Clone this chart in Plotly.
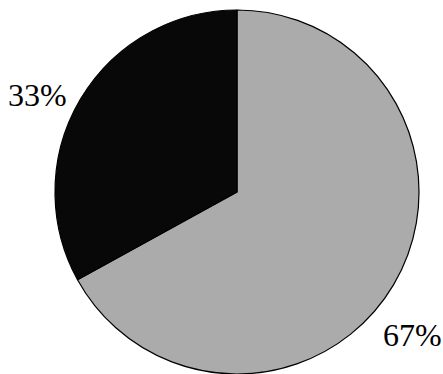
import plotly.graph_objects as go

categories = ["A", "B"]
values = [67, 33]
colors = ["#ababab", "#080808"]

W, H = 443, 374
cx, cy, r = 237, 192, 182

fig = go.Figure()
fig.add_trace(go.Pie(
    labels=categories,
    values=values,
    sort=False,
    direction="clockwise",
    rotation=0,
    textinfo="none",
    hoverinfo="label+percent",
    marker=dict(colors=colors, line=dict(color="#000000", width=1.2)),
    domain=dict(x=[(cx - r) / W, (cx + r) / W], y=[(H - cy - r) / H, (H - cy + r) / H]),
    showlegend=False,
))

label_pos = [(412, 335), (37, 95)]
for v, (px, py) in zip(values, label_pos):
    fig.add_annotation(
        x=px / W, y=1 - py / H, xref="paper", yref="paper",
        text=f"{v}%", showarrow=False,
        font=dict(family="Liberation Serif", size=32, color="#000000"),
        xanchor="center", yanchor="middle",
    )

fig.update_layout(
    width=W, height=H,
    margin=dict(l=0, r=0, t=0, b=0),
    paper_bgcolor="#ffffff",
    plot_bgcolor="#ffffff",
)
fig.write_html("out.html")
